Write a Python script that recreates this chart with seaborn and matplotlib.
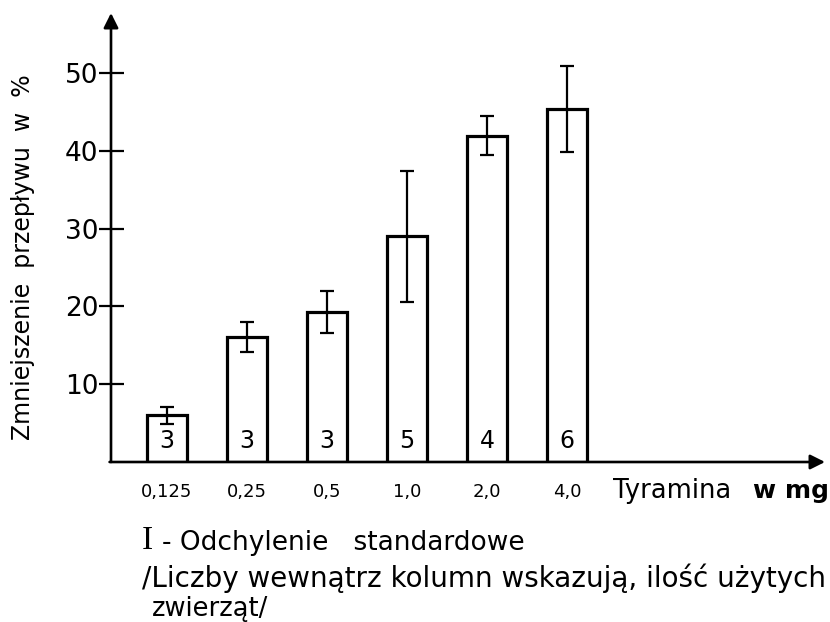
import matplotlib
matplotlib.use("Agg")
import matplotlib.pyplot as plt
import seaborn as sns
import pandas as pd

# Tyramine dose (mg) and mean flow reduction (%) with standard deviation
doses = ["0,125", "0,25", "0,5", "1,0", "2,0", "4,0"]
means = [6.0, 16.1, 19.3, 29.0, 41.9, 45.4]
sds = [1.1, 1.9, 2.7, 8.4, 2.5, 5.5]
animals = [3, 3, 3, 5, 4, 6]
yticks = [10, 20, 30, 40, 50]

sns.set_theme(style="white")
plt.rcParams["font.family"] = ["DejaVu Sans"]
for key in ("text.color", "axes.labelcolor", "xtick.color", "ytick.color"):
    plt.rcParams[key] = "black"

df = pd.DataFrame({"dose": doses, "mean": means})

W, H = 830, 622
fig = plt.figure(figsize=(W / 100, H / 100), dpi=100)
ax = fig.add_axes([111 / W, (H - 462) / H, (825 - 111) / W, (462 - 13) / H])

sns.barplot(data=df, x="dose", y="mean", order=doses, color="white",
            saturation=1, edgecolor="black", linewidth=2.3, width=0.51,
            errorbar=None, ax=ax)
ax.errorbar(range(len(doses)), means, yerr=sds, fmt="none", ecolor="black",
            elinewidth=1.6, capsize=5, capthick=1.6)

for i, k in enumerate(animals):
    ax.text(i, 2.7, str(k), ha="center", va="center", fontsize=17)

ax.set_xlim(-0.7, 8.225)
ax.set_ylim(0, 57.7)
for s in ax.spines.values():
    s.set_visible(False)

# axes drawn as arrows
arrow = dict(arrowstyle="-|>", lw=1.9, color="black", mutation_scale=22,
             shrinkA=0, shrinkB=0)
ax.annotate("", xy=(0, 1), xytext=(0, 0), xycoords="axes fraction", arrowprops=arrow)
ax.annotate("", xy=(1, 0), xytext=(-0.002, 0), xycoords="axes fraction", arrowprops=arrow)

ax.set_yticks(yticks)
ax.set_yticklabels([str(t) for t in yticks], fontsize=19)
ax.tick_params(axis="y", direction="inout", length=18, width=1.6,
               left=True, pad=0)
ax.set_xticks(range(len(doses)))
ax.set_xticklabels(doses, fontsize=13)
ax.tick_params(axis="x", length=0, pad=15)
ax.set_xlabel("")
ax.set_ylabel("")

fig.text(23 / W, 1 - 257 / H, "Zmniejszenie  przepływu  w  %", rotation=90,
         ha="center", va="center", fontsize=17)
fig.text(613 / W, 1 - 491 / H, "Tyramina", ha="left", va="center", fontsize=18.5)
fig.text(753 / W, 1 - 491 / H, "w mg", ha="left", va="center", fontsize=18,
         fontweight="bold")

fig.text(142 / W, 1 - 541 / H, "I", ha="left", va="center", fontsize=24,
         family="Liberation Serif")
fig.text(162 / W, 1 - 543 / H, "- Odchylenie   standardowe", ha="left",
         va="center", fontsize=19)
fig.text(142 / W, 1 - 578 / H, "/Liczby wewnątrz kolumn wskazują, ilość użytych",
         ha="left", va="center", fontsize=20)
fig.text(152 / W, 1 - 609 / H, "zwierząt/", ha="left", va="center", fontsize=18.5)

fig.savefig("out.png", dpi=100, facecolor="white")
